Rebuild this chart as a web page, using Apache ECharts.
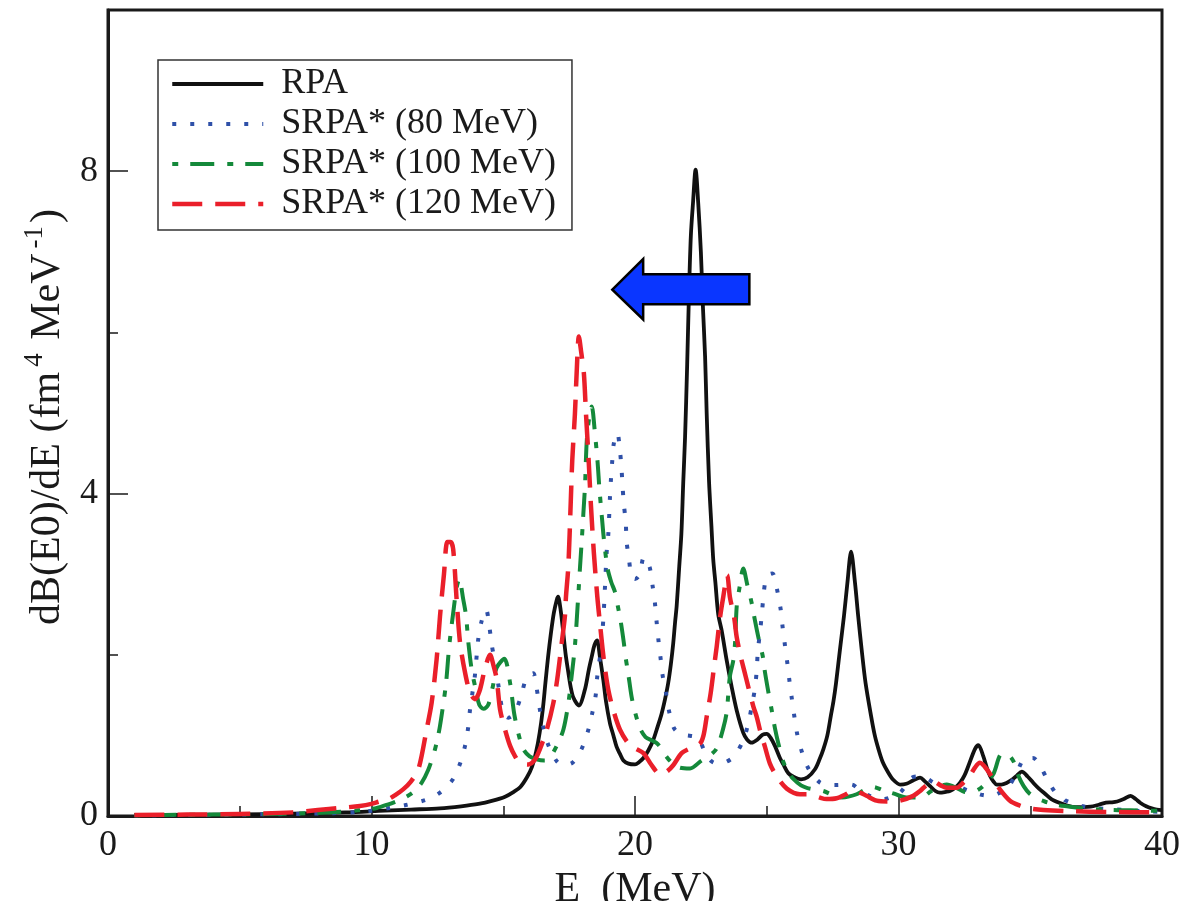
<!DOCTYPE html>
<html>
<head>
<meta charset="utf-8">
<title>E0 strength distribution</title>
<script src="https://cdn.jsdelivr.net/npm/echarts@6/dist/echarts.min.js"></script>
<style>
  html, body { margin: 0; padding: 0; background: #fff; }
  #chart { width: 1189px; height: 901px; }
</style>
</head>
<body>
<div id="chart"></div>
<script>
// Strength functions dB(E0)/dE versus excitation energy E (MeV), as [E, value] pairs.
const rpa = [
  [1.0,0.01],[3,0.015],[5,0.02],[7,0.03],[9,0.045],[10.5,0.067],[11.5,0.08],[12.6,0.095],
  [13.4,0.12],[14.06,0.149],[14.6,0.19],[15.07,0.24],[15.4,0.3],[15.65,0.36],[15.9,0.48],
  [16.09,0.61],[16.25,0.8],[16.38,1.03],[16.5,1.32],[16.6,1.65],[16.7,1.97],[16.81,2.27],
  [16.92,2.52],[17.03,2.68],[17.08,2.72],[17.18,2.55],[17.28,2.27],[17.37,2.0],[17.47,1.78],
  [17.56,1.6],[17.66,1.47],[17.87,1.37],[18.1,1.57],[18.25,1.82],[18.36,1.98],[18.46,2.12],
  [18.56,2.18],[18.67,1.97],[18.8,1.68],[18.9,1.42],[19.05,1.15],[19.18,1.0],[19.3,0.86],
  [19.43,0.77],[19.56,0.69],[19.75,0.65],[20.0,0.64],[20.16,0.67],[20.32,0.72],[20.5,0.81],
  [20.69,0.94],[20.85,1.1],[21.01,1.27],[21.14,1.45],[21.26,1.65],[21.36,1.88],[21.45,2.14],
  [21.52,2.4],[21.58,2.6],[21.68,3.1],[21.76,3.5],[21.83,4.13],[21.9,4.7],[21.98,5.6],
  [22.05,6.5],[22.12,7.2],[22.2,7.6],[22.3,8.02],[22.4,7.6],[22.5,7.0],[22.58,6.3],
  [22.66,5.7],[22.72,5.0],[22.81,4.15],[22.9,3.6],[22.97,3.18],[23.05,2.9],[23.16,2.5],
  [23.29,2.3],[23.48,1.93],[23.67,1.6],[23.86,1.31],[24.11,1.03],[24.25,0.95],[24.43,0.91],
  [24.65,0.95],[24.85,1.01],[25.0,1.02],[25.15,0.97],[25.31,0.87],[25.5,0.72],[25.63,0.64],
  [25.82,0.53],[26.0,0.49],[26.3,0.455],[26.55,0.48],[26.83,0.58],[27.0,0.7],[27.15,0.83],
  [27.3,1.0],[27.43,1.24],[27.53,1.42],[27.63,1.65],[27.78,2.07],[27.93,2.48],[28.06,2.89],
  [28.2,3.28],[28.35,2.89],[28.47,2.48],[28.6,2.07],[28.75,1.65],[28.96,1.24],[29.1,1.0],
  [29.24,0.83],[29.4,0.67],[29.61,0.54],[29.8,0.45],[30.06,0.39],[30.3,0.4],[30.55,0.44],
  [30.82,0.475],[31.0,0.43],[31.2,0.37],[31.4,0.31],[31.57,0.29],[31.8,0.3],[31.95,0.31],
  [32.15,0.35],[32.33,0.41],[32.5,0.5],[32.65,0.62],[32.9,0.83],[33.03,0.88],[33.22,0.74],
  [33.35,0.6],[33.47,0.5],[33.6,0.43],[33.73,0.39],[33.9,0.39],[34.1,0.41],[34.3,0.45],
  [34.49,0.5],[34.68,0.55],[34.9,0.49],[35.12,0.41],[35.33,0.34],[35.55,0.28],[35.8,0.21],
  [36.13,0.16],[36.4,0.13],[36.71,0.11],[37.0,0.11],[37.29,0.115],[37.6,0.14],[37.87,0.165],
  [38.1,0.17],[38.3,0.18],[38.55,0.21],[38.81,0.25],[39.0,0.21],[39.17,0.165],[39.4,0.12],
  [39.61,0.095],[39.8,0.08],[40.0,0.074]
];

const srpa80 = [
  [1.0,0.01],[3,0.012],[5,0.018],[7,0.025],[8.5,0.035],[9.5,0.05],[10.0,0.065],[10.7,0.1],
  [11.3,0.136],[11.97,0.19],[12.3,0.23],[12.6,0.29],[12.85,0.36],[13.08,0.45],[13.22,0.54],
  [13.36,0.65],[13.46,0.76],[13.55,0.87],[13.67,1.1],[13.74,1.32],[13.84,1.55],[13.93,1.76],
  [14.05,2.19],[14.18,2.42],[14.35,2.56],[14.47,2.36],[14.56,2.13],[14.69,1.9],[14.85,1.55],
  [15.0,1.28],[15.2,1.22],[15.42,1.27],[15.67,1.48],[15.85,1.69],[16.0,1.75],[16.14,1.77],
  [16.26,1.6],[16.39,1.32],[16.52,1.1],[16.71,0.88],[17.03,0.68],[17.3,0.63],[17.62,0.66],
  [17.85,0.76],[18.01,0.86],[18.23,1.07],[18.38,1.28],[18.51,1.5],[18.57,1.74],[18.7,2.05],
  [18.8,2.45],[18.86,2.84],[18.93,3.3],[18.99,3.51],[19.05,3.96],[19.09,4.19],[19.14,4.42],
  [19.2,4.63],[19.33,4.75],[19.43,4.53],[19.49,4.3],[19.53,4.08],[19.58,3.86],[19.65,3.64],
  [19.68,3.41],[19.77,3.19],[19.87,2.97],[20.0,2.94],[20.16,2.99],[20.34,3.21],[20.47,3.15],
  [20.57,3.07],[20.67,2.85],[20.76,2.63],[20.82,2.41],[20.89,2.18],[20.97,1.96],[21.05,1.74],
  [21.18,1.52],[21.3,1.29],[21.48,1.09],[21.7,1.02],[21.96,1.0],[22.2,0.99],[22.4,0.97],
  [22.66,0.79],[22.9,0.68],[23.14,0.65],[23.45,0.67],[23.76,0.74],[24.11,0.94],[24.3,1.15],
  [24.43,1.36],[24.55,1.58],[24.62,1.81],[24.66,2.04],[24.74,2.27],[24.81,2.49],[24.87,2.71],
  [24.96,2.93],[25.1,3.0],[25.22,3.01],[25.41,2.78],[25.53,2.56],[25.6,2.35],[25.69,2.12],
  [25.78,1.9],[25.86,1.68],[25.95,1.46],[26.05,1.23],[26.16,1.01],[26.33,0.8],[26.58,0.59],
  [27.0,0.42],[27.3,0.39],[27.65,0.385],[28.0,0.39],[28.22,0.39],[28.5,0.33],[28.9,0.25],
  [29.2,0.22],[29.45,0.21],[29.75,0.24],[30.06,0.29],[30.3,0.39],[30.5,0.475],[30.75,0.49],
  [31.03,0.475],[31.3,0.42],[31.6,0.37],[32.0,0.35],[32.27,0.36],[32.6,0.32],[32.9,0.29],
  [33.2,0.26],[33.54,0.25],[33.85,0.29],[34.17,0.36],[34.5,0.55],[34.82,0.72],[35.1,0.72],
  [35.33,0.65],[35.62,0.47],[35.98,0.28],[36.3,0.2],[36.57,0.16],[37.0,0.12],[37.5,0.095],
  [38.0,0.085],[38.6,0.075],[39.3,0.06],[40.0,0.05]
];

const srpa100 = [
  [1.0,0.01],[3,0.015],[5,0.02],[7,0.03],[8.5,0.045],[9.5,0.07],[10.2,0.1],[10.64,0.145],
  [11.0,0.19],[11.27,0.23],[11.6,0.3],[11.9,0.41],[12.15,0.57],[12.37,0.78],[12.5,0.95],
  [12.6,1.12],[12.72,1.38],[12.83,1.65],[12.95,2.11],[13.1,2.52],[13.23,2.83],[13.33,2.94],
  [13.48,2.69],[13.59,2.48],[13.67,2.17],[13.8,1.82],[13.97,1.55],[14.09,1.38],[14.25,1.33],
  [14.43,1.38],[14.6,1.6],[14.75,1.84],[15.04,1.95],[15.26,1.65],[15.41,1.28],[15.57,1.03],
  [15.76,0.83],[16.0,0.74],[16.3,0.7],[16.55,0.69],[16.71,0.7],[17.03,0.87],[17.28,1.07],
  [17.47,1.4],[17.6,1.75],[17.72,2.11],[17.85,2.75],[17.91,3.07],[17.98,3.42],[18.04,3.75],
  [18.1,4.08],[18.19,4.75],[18.36,5.08],[18.48,4.75],[18.58,4.39],[18.65,4.06],[18.74,3.72],
  [18.83,3.4],[18.96,3.07],[19.1,2.9],[19.24,2.78],[19.35,2.6],[19.46,2.41],[19.58,2.14],
  [19.62,2.02],[19.75,1.75],[19.87,1.48],[20.0,1.29],[20.19,1.09],[20.4,0.98],[20.63,0.94],
  [20.8,0.91],[20.95,0.86],[21.14,0.76],[21.4,0.66],[21.7,0.6],[22.09,0.59],[22.53,0.69],
  [22.8,0.74],[23.1,0.84],[23.35,1.09],[23.48,1.29],[23.6,1.73],[23.73,1.93],[23.8,2.16],
  [23.86,2.6],[23.96,2.82],[24.11,3.07],[24.26,2.87],[24.43,2.64],[24.55,2.43],[24.68,2.22],
  [24.85,1.98],[24.93,1.79],[25.06,1.54],[25.19,1.31],[25.31,1.09],[25.44,0.9],[25.63,0.67],
  [25.8,0.55],[26.01,0.46],[26.3,0.38],[26.52,0.35],[26.8,0.33],[27.15,0.31],[27.5,0.26],
  [27.85,0.23],[28.1,0.24],[28.41,0.27],[28.7,0.32],[29.04,0.36],[29.4,0.32],[29.8,0.28],
  [30.3,0.23],[30.88,0.23],[31.2,0.3],[31.57,0.37],[31.83,0.39],[32.2,0.35],[32.5,0.3],
  [32.71,0.29],[33.0,0.32],[33.3,0.4],[33.6,0.52],[33.92,0.77],[34.15,0.76],[34.36,0.68],
  [34.55,0.5],[34.75,0.37],[34.97,0.28],[35.25,0.22],[35.55,0.18],[36.0,0.14],[36.4,0.12],
  [37.0,0.095],[37.9,0.077],[38.8,0.07],[40.0,0.065]
];

const srpa120 = [
  [1.0,0.012],[3,0.018],[5,0.025],[7,0.045],[7.96,0.074],[8.8,0.1],[9.56,0.124],[10.0,0.15],
  [10.3,0.18],[10.58,0.2],[10.9,0.26],[11.2,0.33],[11.5,0.43],[11.78,0.58],[12.09,1.07],
  [12.28,1.4],[12.47,1.94],[12.6,2.48],[12.75,3.0],[12.88,3.4],[13.0,3.4],[13.1,3.31],
  [13.23,2.69],[13.36,2.15],[13.55,1.78],[13.74,1.53],[13.93,1.45],[14.1,1.55],[14.3,1.82],
  [14.5,2.0],[14.62,1.88],[14.75,1.7],[14.88,1.32],[15.07,1.07],[15.26,0.87],[15.45,0.74],
  [15.64,0.66],[15.95,0.64],[16.2,0.7],[16.39,0.83],[16.65,1.07],[16.9,1.4],[17.05,1.7],
  [17.22,2.15],[17.34,2.48],[17.38,2.72],[17.47,3.1],[17.56,3.88],[17.62,4.42],[17.72,4.99],
  [17.79,5.53],[17.87,5.95],[17.96,5.75],[18.06,5.49],[18.14,4.99],[18.24,4.42],[18.33,3.84],
  [18.44,3.26],[18.57,2.72],[18.67,2.39],[18.82,1.93],[18.99,1.56],[19.18,1.31],[19.43,1.07],
  [19.75,0.9],[20.0,0.84],[20.32,0.78],[20.63,0.63],[20.95,0.52],[21.2,0.55],[21.45,0.63],
  [21.77,0.78],[22.09,0.84],[22.47,0.9],[22.6,1.0],[22.72,1.23],[22.87,1.52],[23.0,1.85],
  [23.1,2.1],[23.23,2.47],[23.35,2.72],[23.5,2.99],[23.6,2.72],[23.76,2.47],[23.86,2.22],
  [24.01,1.98],[24.14,1.81],[24.3,1.6],[24.49,1.36],[24.62,1.23],[24.74,1.07],[24.93,0.86],
  [25.12,0.65],[25.38,0.49],[25.76,0.34],[26.26,0.27],[26.64,0.27],[27.0,0.23],[27.27,0.21],
  [27.65,0.22],[28.0,0.27],[28.29,0.32],[28.55,0.29],[28.79,0.25],[29.17,0.19],[29.6,0.18],
  [30.06,0.19],[30.56,0.25],[30.82,0.31],[31.05,0.38],[31.32,0.43],[31.6,0.38],[31.83,0.35],
  [32.2,0.35],[32.45,0.41],[32.71,0.5],[32.9,0.6],[33.09,0.66],[33.35,0.58],[33.6,0.455],
  [33.85,0.33],[34.23,0.19],[34.6,0.13],[34.97,0.095],[35.5,0.075],[36.5,0.06],[38,0.05],
  [40,0.045]
];

const seriesNames = ['RPA', 'SRPA* (80 MeV)', 'SRPA* (100 MeV)', 'SRPA* (120 MeV)'];
const xTicks = [0, 10, 20, 30, 40];
const yTicks = [0, 4, 8];

// Left-pointing arrow (energy shift), outline given in data units [E, value].
const shiftArrow = [
  [19.14, 6.53], [20.31, 6.91], [20.31, 6.72], [24.34, 6.72],
  [24.34, 6.35], [20.31, 6.35], [20.31, 6.16]
];

const FONT = '"Liberation Serif", "Times New Roman", Times, serif';
const INK = '#1a1a1a';

const styles = [
  { color: '#111111', width: 3.8, type: 'solid' },
  { color: '#2f50a8', width: 4,   type: [4, 14] },
  { color: '#14893a', width: 4,   type: [6, 12, 24, 13] },
  { color: '#ea1f2a', width: 4.5, type: [30, 13] }
];
const curves = [rpa, srpa80, srpa100, srpa120];

const chart = echarts.init(document.getElementById('chart'), null, { renderer: 'canvas' });

const option = {
  backgroundColor: '#ffffff',
  animation: false,
  grid: {
    left: 108, right: 27, top: 10, bottom: 85,
    outerBoundsMode: 'none',
    containLabel: false,
    show: true, borderColor: INK, borderWidth: 3, backgroundColor: 'transparent'
  },
  legend: {
    show: true,
    orient: 'vertical',
    left: 158, top: 60,
    itemWidth: 91, itemHeight: 14, itemGap: 4,
    padding: [6, 16, 8, 12],
    borderColor: '#333', borderWidth: 1.5,
    backgroundColor: '#fff',
    selectedMode: false,
    itemStyle: { opacity: 0 },
    lineStyle: { width: 'inherit', type: 'inherit', cap: 'butt' },
    textStyle: { fontFamily: FONT, fontSize: 36, color: INK, padding: [0, 0, 0, 13] },
    data: seriesNames
  },
  xAxis: {
    type: 'value', min: 0, max: 40, interval: 10,
    name: 'E  (MeV)', nameLocation: 'middle', nameGap: 52,
    nameTextStyle: { fontFamily: FONT, fontSize: 42, color: INK },
    axisLine: { show: true, onZero: false, lineStyle: { color: INK, width: 3 } },
    axisTick: { show: true, inside: true, length: 20, lineStyle: { color: INK, width: 1.5 } },
    minorTick: { show: true, splitNumber: 2, length: 10, lineStyle: { color: INK, width: 1.5 } },
    axisLabel: {
      fontFamily: FONT, fontSize: 36, color: INK, margin: 12,
      formatter: v => (xTicks.includes(v) ? String(v) : '')
    },
    splitLine: { show: false }, minorSplitLine: { show: false }
  },
  yAxis: [
    {
      type: 'value', min: 0, max: 10, interval: 4, position: 'left',
      name: '{a|dB(E0)/dE (fm}{s|4}{a| MeV}{s|-1}{a|)}',
      nameLocation: 'middle', nameGap: 29, nameRotate: 90,
      nameTextStyle: {
        padding: [0, 8, 0, 0],
        rich: {
          a: { fontFamily: FONT, fontSize: 42, color: INK, lineHeight: 48, verticalAlign: 'bottom' },
          s: { fontFamily: FONT, fontSize: 27, color: INK, lineHeight: 48, verticalAlign: 'top', padding: [0, 3, 0, 5] }
        }
      },
      axisLine: { show: true, onZero: false, lineStyle: { color: INK, width: 3 } },
      axisTick: { show: true, inside: true, length: 20, lineStyle: { color: INK, width: 1.5 } },
      axisLabel: {
        fontFamily: FONT, fontSize: 36, color: INK, margin: 10,
        formatter: v => (yTicks.includes(v) ? String(v) : '')
      },
      splitLine: { show: false }
    },
    {
      type: 'value', min: 0, max: 10, interval: 2, position: 'left',
      axisLine: { show: false },
      axisTick: { show: true, inside: true, length: 10, lineStyle: { color: INK, width: 1.5 } },
      axisLabel: { show: false },
      splitLine: { show: false }
    }
  ],
  series: curves.map((d, i) => ({
    name: seriesNames[i],
    type: 'line',
    yAxisIndex: 0,
    data: d,
    showSymbol: false,
    symbol: 'none',
    smooth: 0.3,
    clip: true,
    z: 2 + i,
    color: styles[i].color,
    lineStyle: { color: styles[i].color, width: styles[i].width, type: styles[i].type, cap: 'butt', join: 'round' }
  }))
};

chart.setOption(option);

// Arrow annotation placed through the grid's coordinate system.
const arrowPts = shiftArrow.map(p => chart.convertToPixel({ gridIndex: 0 }, p));
chart.setOption({
  graphic: [{
    type: 'polygon',
    z: 100,
    shape: { points: arrowPts },
    style: { fill: '#0a36ff', stroke: '#000', lineWidth: 2.5, lineJoin: 'miter' }
  }]
});
</script>
</body>
</html>
